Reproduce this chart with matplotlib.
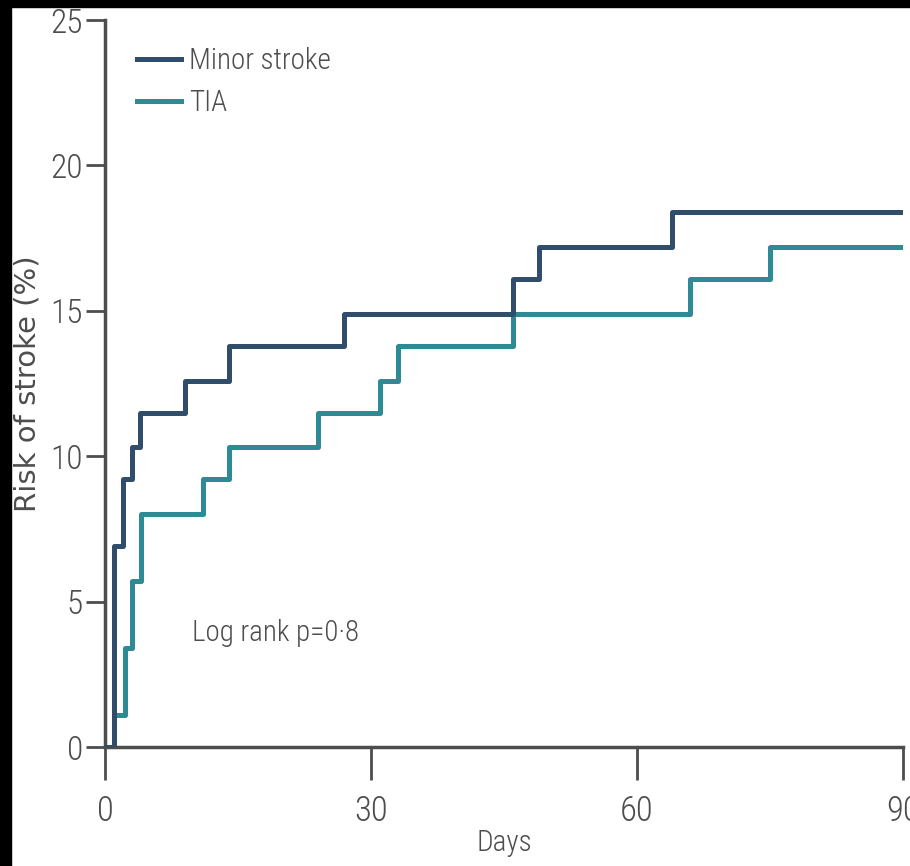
"""Kaplan-Meier style cumulative stroke risk: minor stroke vs TIA."""
import matplotlib
matplotlib.use("Agg")
import matplotlib.pyplot as plt
from matplotlib.patches import Rectangle

# step curves (day of event, cumulative risk %)
minor_days = [0, 1, 2, 3, 4, 9, 14, 27, 46, 49, 64, 90]
minor_risk = [0, 6.9, 9.2, 10.3, 11.5, 12.6, 13.8, 14.9, 16.1, 17.2, 18.4, 18.4]

tia_days = [0, 1, 2.2, 3, 4.1, 11, 14, 24, 31, 33, 46, 66, 75, 90]
tia_risk = [0, 1.1, 3.4, 5.7, 8.0, 9.2, 10.3, 11.5, 12.6, 13.8, 14.9, 16.1,
            17.2, 17.2]

x_ticks = [0, 30, 60, 90]
y_ticks = [0, 5, 10, 15, 20, 25]

plt.rcParams["font.family"] = ["Roboto Condensed", "DejaVu Sans"]

MINOR = "#314d6c"
TIA = "#2e8a94"
GREY = "#4d4d4d"

fig = plt.figure(figsize=(9.10, 8.66), dpi=100)
ax = fig.add_axes([0.1154, 0.1374, 0.8769, 0.8395])

ax.step(minor_days, minor_risk, where="post", color=MINOR, lw=3.6,
        label="Minor stroke", zorder=3)
ax.step(tia_days, tia_risk, where="post", color=TIA, lw=3.6,
        label="TIA", zorder=2)

ax.set_xlim(0, 90)
ax.set_ylim(0, 25)
ax.set_xticks(x_ticks)
ax.set_yticks(y_ticks)
for s in ("top", "right"):
    ax.spines[s].set_visible(False)
for s in ("left", "bottom"):
    ax.spines[s].set_color(GREY)
    ax.spines[s].set_linewidth(2.5)
ax.tick_params(axis="y", length=14, width=2, color=GREY, labelcolor=GREY,
               labelsize=24, pad=2)
ax.tick_params(axis="x", length=24, width=2, color=GREY, labelcolor=GREY,
               labelsize=25, pad=10)
for lab in ax.get_xticklabels() + ax.get_yticklabels():
    lab.set_fontweight("light")

ax.set_xlabel("Days", fontsize=21, color=GREY, fontweight="light")
ax.xaxis.set_label_coords(0.5, -0.113)
ax.set_ylabel("Risk of stroke (%)", fontsize=21, color=GREY,
              family=["DejaVu Sans"])
ax.yaxis.set_label_coords(-0.08, 0.5)

ax.legend(loc="upper left", bbox_to_anchor=(0.04, 0.963), frameon=False,
          borderaxespad=0, borderpad=0,
          handlelength=1.5, handletextpad=0.3,
          labelspacing=0.5, labelcolor=GREY,
          prop={"weight": "light", "size": 21})

ax.text(0.109, 0.157, "Log rank p=0·8", transform=ax.transAxes,
        fontsize=21, color=GREY, va="center", ha="left", fontweight="light")

# dark frame edges seen in the source image
fig.add_artist(Rectangle((0, 0), 11 / 910, 1, transform=fig.transFigure,
                         color="black", zorder=10))
fig.add_artist(Rectangle((0, 1 - 7 / 866), 1, 7 / 866,
                         transform=fig.transFigure, color="black", zorder=10))

fig.savefig("out.png", dpi=100, facecolor="white")
